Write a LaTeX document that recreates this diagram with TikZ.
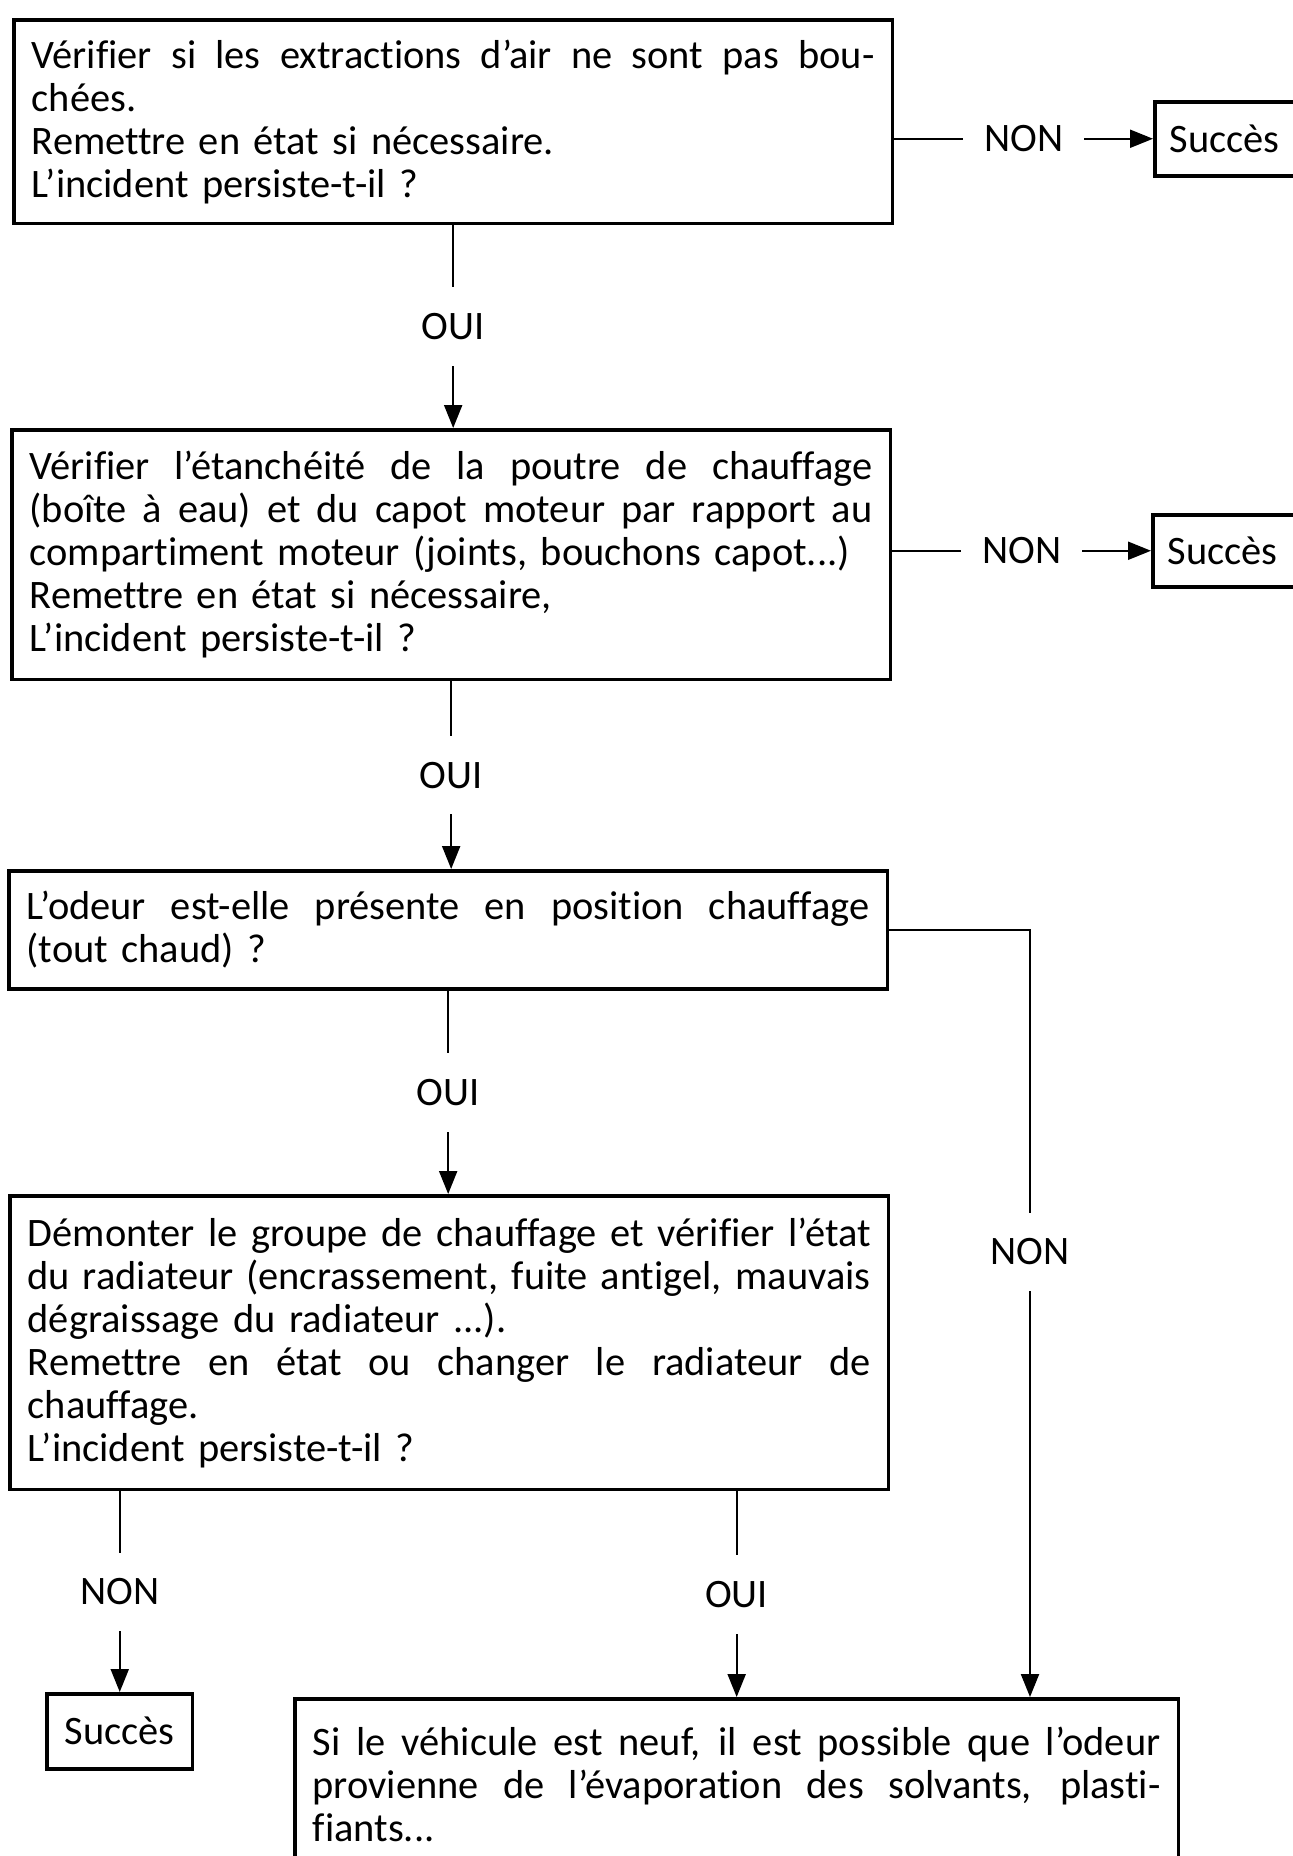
\documentclass[tikz,border=0pt]{standalone}
\usepackage{fontspec}
\setmainfont{Carlito}[Ligatures={TeX,NoCommon}]
\usetikzlibrary{arrows.meta,positioning}
\tikzset{
  stepbox/.style={
    rectangle, draw, line width=2pt, anchor=north west,
    minimum width=17.58cm, text width=16.86cm,
    inner xsep=0.36cm, align=left,
    font=\fontsize{23}{24.5}\selectfont
  },
  okbox/.style={
    rectangle, draw, line width=2pt, anchor=north west,
    minimum height=1.48cm, text width=#1,
    inner xsep=0.3cm, align=left,
    font=\fontsize{23}{24.5}\selectfont
  },
  okbox/.default=2.6cm,
  flowarrow/.style={
    -{Triangle[length=0.46cm,width=0.36cm]}, line width=1.2pt
  },
  answer/.style={fill=white, inner xsep=0.42cm, inner ysep=0.52cm,
    font=\fontsize{23}{24.5}\selectfont},
}
\newcommand{\fullline}[1]{\makebox[\hsize][s]{\spaceskip=0pt\xspaceskip=0pt #1}}

\begin{document}
\begin{tikzpicture}[x=0.02cm, y=-0.02cm]
  \useasboundingbox (0,0) rectangle (1292,1856);
  \node[stepbox, minimum height=4.08cm] (q1) at (12,18)
    {\fullline{Vérifier si les extractions d'air ne sont pas bou-}\\
     chées.\\
     Remettre en état si nécessaire.\\
     L'incident persiste-t-il ?};
  \node[stepbox, minimum height=5cm] (q2) at (10,428)
    {\fullline{Vérifier l'étanchéité de la poutre de chauffage}\\
     \fullline{(boîte à eau) et du capot moteur par rapport au}\\
     compartiment moteur (joints, bouchons capot...)\\
     Remettre en état si nécessaire,\\
     L'incident persiste-t-il ?};
  \node[stepbox, minimum height=2.36cm] (q3) at (7,869)
    {\fullline{L'odeur est-elle présente en position chauffage}\\
     (tout chaud) ?};
  \node[stepbox, minimum height=5.88cm] (q4) at (8,1194)
    {\fullline{Démonter le groupe de chauffage et vérifier l'état}\\
     \fullline{du radiateur (encrassement, fuite antigel, mauvais}\\
     dégraissage du radiateur ...).\\
     \fullline{Remettre en état ou changer le radiateur de}\\
     chauffage.\\
     L'incident persiste-t-il ?};
  \node[stepbox, minimum width=17.68cm, text width=16.96cm, minimum height=3.44cm] (res) at (293,1697)
    {\fullline{Si le véhicule est neuf, il est possible que l'odeur}\\
     \fullline{provienne de l'évaporation des solvants, plasti-}\\
     fiants...};
  \node[okbox] (ok1) at (1153,100) {Succès};
  \node[okbox, minimum height=1.44cm] (ok2) at (1151,513) {Succès};
  \node[okbox=2.32cm, align=center, minimum height=1.5cm] (ok3) at (45,1692) {Succès};
  \coordinate (hot) at (1030,932);

  \draw[flowarrow] (q1.east |- ok1.west) -- node[answer] {NON} (ok1.west);
  \draw[flowarrow] (q2.east |- ok2.west) -- node[answer] {NON} (ok2.west);
  \draw[flowarrow] (q1.south) -- node[answer] {OUI} (q1.south |- q2.north);
  \draw[flowarrow] (q2.south) -- node[answer] {OUI} (q2.south |- q3.north);
  \draw[flowarrow] (q3.south) -- node[answer] {OUI} (q3.south |- q4.north);
  \draw[flowarrow] (q3.east) -- (q3.east -| hot) -- node[answer, pos=0.42] {NON} (hot |- res.north);
  \draw[flowarrow] (ok3.north |- q4.south) -- node[answer] {NON} (ok3.north);
  \draw[flowarrow] (res.north |- q4.south) -- node[answer] {OUI} (res.north);
\end{tikzpicture}
\end{document}
